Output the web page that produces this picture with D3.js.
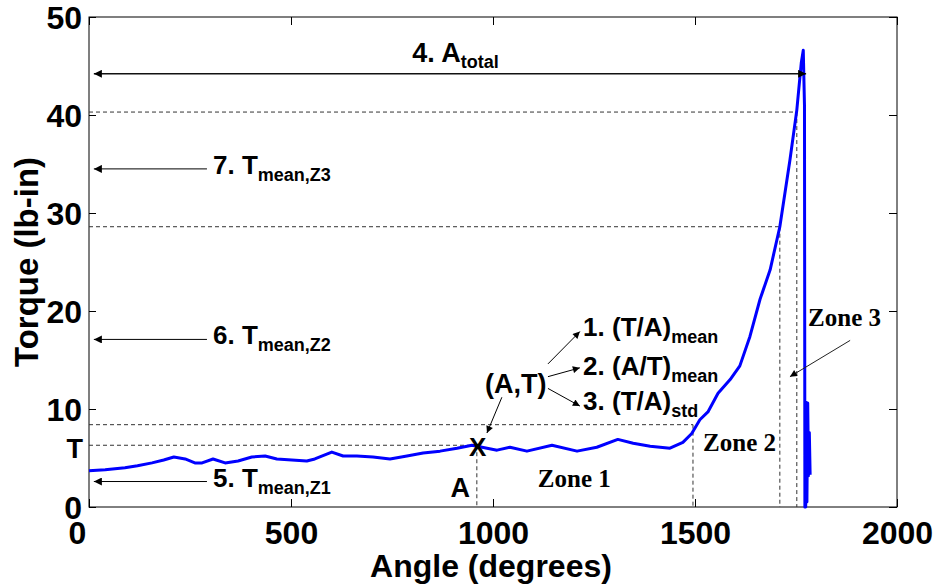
<!DOCTYPE html>
<html>
<head>
<meta charset="utf-8">
<script src="https://cdn.jsdelivr.net/npm/d3@7"></script>
<style>
  body { margin: 0; background: #fff; }
  text { font-family: "Liberation Sans", Arial, sans-serif; font-weight: bold; fill: #000; }
  .zone { font-family: "Liberation Serif", "Times New Roman", serif; }
</style>
</head>
<body>
<svg id="chart" width="936" height="586"></svg>
<script>
// torque curve (angle in degrees, torque in lb-in)
const angle = [0, 40, 89, 120, 156, 185, 210, 238, 262, 280, 307, 337, 369, 403, 436, 465, 502, 539, 559, 601,
  629, 663, 703, 745, 787, 827, 869, 911, 948, 973, 1010, 1042, 1084, 1146, 1208, 1257, 1309, 1347, 1389, 1438,
  1470, 1492, 1512, 1532, 1557, 1587, 1611, 1636, 1661, 1686, 1710, 1735, 1752, 1763, 1768, 1771, 1772, 1774,
  1775, 1777, 1779, 1781, 1783, 1785];
const torque = [3.7, 3.8, 4.0, 4.2, 4.5, 4.8, 5.1, 4.9, 4.5, 4.5, 4.9, 4.5, 4.7, 5.1, 5.2, 4.9, 4.8, 4.7, 4.9, 5.6,
  5.2, 5.2, 5.1, 4.9, 5.2, 5.5, 5.7, 6.0, 6.3, 6.1, 5.8, 6.1, 5.7, 6.3, 5.7, 6.1, 6.9, 6.5, 6.2, 6.0,
  6.6, 7.5, 8.9, 9.7, 11.6, 13.0, 14.4, 17.4, 21.2, 24.2, 28.6, 35.4, 40.5, 45.3, 46.6, 41, 0, 0,
  10.7, 0.5, 10.6, 3.2, 7.6, 3.3];

const xTicks = [0, 500, 1000, 1500, 2000];
const yTicks = [0, 10, 20, 30, 40, 50];

// zone boundaries: dashed guide lines (angle, torque)
const guideAngle = [960, 1495, 1710, 1752];
const guideTorque = [6.3, 8.4, 28.6, 40.3];

// left pointing arrows for the zone means
const meanLabels = ["7. T", "6. T", "5. T"];
const meanSubs = ["mean,Z3", "mean,Z2", "mean,Z1"];
const meanTorque = [34.5, 17.1, 2.6];

const resultLabels = ["1. (T/A)", "2. (A/T)", "3. (T/A)"];
const resultSubs = ["mean", "mean", "std"];
const resultTorque = [17.4, 13.5, 9.9];
const resultArrowTorque = [17.9, 14.2, 10.3];
const resultArrowStart = [14.6, 13.3, 12.1];

const zoneNames = ["Zone 1", "Zone 2", "Zone 3"];
const zoneAngle = [1111, 1520, 1780];
const zoneTorque = [2.0, 5.7, 18.5];

const svg = d3.select("#chart");
const margin = {left: 89, top: 17, right: 39, bottom: 79};
const w = 936 - margin.left - margin.right;
const h = 586 - margin.top - margin.bottom;

const x = d3.scaleLinear().domain([0, 2000]).range([margin.left, margin.left + w]);
const y = d3.scaleLinear().domain([0, 50]).range([margin.top + h, margin.top]);

const defs = svg.append("defs");
defs.append("marker").attr("id", "head").attr("viewBox", "0 0 10 10")
  .attr("refX", 10).attr("refY", 5).attr("markerWidth", 10).attr("markerHeight", 8)
  .attr("markerUnits", "userSpaceOnUse").attr("orient", "auto-start-reverse")
  .append("path").attr("d", "M0,0 L10,5 L0,10 Z").attr("fill", "#000");
defs.append("marker").attr("id", "small").attr("viewBox", "0 0 10 10")
  .attr("refX", 10).attr("refY", 5).attr("markerWidth", 9).attr("markerHeight", 7)
  .attr("markerUnits", "userSpaceOnUse").attr("orient", "auto")
  .append("path").attr("d", "M0,0 L10,5 L0,10 Z").attr("fill", "#000");

// box + ticks (matlab style, ticks inside on all sides)
svg.append("rect").attr("x", margin.left).attr("y", margin.top).attr("width", w).attr("height", h)
  .attr("fill", "none").attr("stroke", "#000").attr("stroke-width", 1);

const axB = svg.append("g").attr("transform", "translate(0," + (margin.top + h) + ")")
  .call(d3.axisBottom(x).tickValues(xTicks).tickSize(-8).tickPadding(14).tickFormat(d3.format("d")));
const axT = svg.append("g").attr("transform", "translate(0," + margin.top + ")")
  .call(d3.axisTop(x).tickValues(xTicks).tickSize(-8).tickFormat(""));
const axL = svg.append("g").attr("transform", "translate(" + margin.left + ",0)")
  .call(d3.axisLeft(y).tickValues(yTicks).tickSize(-7).tickPadding(7).tickFormat(d3.format("d")));
const axR = svg.append("g").attr("transform", "translate(" + (margin.left + w) + ",0)")
  .call(d3.axisRight(y).tickValues(yTicks).tickSize(-8).tickFormat(""));

[axB, axT, axL, axR].forEach(g =>
{
  g.select(".domain").remove();
  g.selectAll(".tick line").attr("stroke", "#000");
});
axB.selectAll(".tick text").attr("font-size", 32).attr("dy", "0.71em")
  .attr("font-family", "Liberation Sans, Arial, sans-serif").attr("font-weight", "bold");
axB.selectAll(".tick text").filter(d => d === 0).attr("dx", -12);
axL.selectAll(".tick text").attr("font-size", 32).attr("dy", "0.36em")
  .attr("font-family", "Liberation Sans, Arial, sans-serif").attr("font-weight", "bold");

svg.append("text").attr("x", x(1000) - 2).attr("y", 577).attr("text-anchor", "middle")
  .attr("font-size", 32).text("Angle (degrees)");
svg.append("text").attr("transform", "translate(38," + y(25) + ") rotate(-90)").attr("text-anchor", "middle")
  .attr("font-size", 33).text("Torque (lb-in)");

// dashed guides
const dash = svg.append("g").attr("stroke", "#333").attr("stroke-width", 1).attr("stroke-dasharray", "4,3");
guideAngle.forEach((a, i) =>
{
  dash.append("line").attr("x1", x(0)).attr("x2", x(a)).attr("y1", y(guideTorque[i])).attr("y2", y(guideTorque[i]));
  dash.append("line").attr("x1", x(a)).attr("x2", x(a)).attr("y1", y(guideTorque[i])).attr("y2", y(0));
});

// curve
const pts = angle.map((a, i) => [a, torque[i]]);
svg.append("path").datum(pts)
  .attr("d", d3.line().x(d => x(d[0])).y(d => y(d[1])))
  .attr("fill", "none").attr("stroke", "#0000ff").attr("stroke-width", 3).attr("stroke-linejoin", "round");

// A_total double arrow
svg.append("line").attr("x1", x(12)).attr("x2", x(1775)).attr("y1", y(44.2)).attr("y2", y(44.2))
  .attr("stroke", "#111").attr("stroke-width", 1.5)
  .attr("marker-start", "url(#head)").attr("marker-end", "url(#head)");
const at = svg.append("text").attr("x", x(800)).attr("y", y(45.4)).attr("font-size", 27).text("4. A");
at.append("tspan").attr("font-size", 18).attr("dy", 6).text("total");

// zone mean arrows
meanTorque.forEach((t, i) =>
{
  svg.append("line").attr("x1", x(292)).attr("x2", x(12)).attr("y1", y(t)).attr("y2", y(t))
    .attr("stroke", "#000").attr("stroke-width", 1).attr("marker-end", "url(#head)");
  const tx = svg.append("text").attr("x", x(307)).attr("y", y(t) + 5).attr("font-size", 26).text(meanLabels[i]);
  tx.append("tspan").attr("font-size", 18).attr("dy", 7).text(meanSubs[i]);
});

// (A,T) point
svg.append("text").attr("x", x(962)).attr("y", y(6.1)).attr("text-anchor", "middle")
  .attr("dominant-baseline", "central").attr("font-size", 26).text("X");
svg.append("text").attr("x", x(-15)).attr("y", y(5.0)).attr("text-anchor", "end").attr("font-size", 27).text("T");
svg.append("text").attr("x", x(943)).attr("y", y(1.0)).attr("text-anchor", "end").attr("font-size", 27).text("A");
svg.append("text").attr("x", x(980)).attr("y", y(11.6)).attr("font-size", 27).text("(A,T)");
svg.append("line").attr("x1", x(1022)).attr("y1", y(11.2)).attr("x2", x(985)).attr("y2", y(7.55))
  .attr("stroke", "#000").attr("stroke-width", 1).attr("marker-end", "url(#small)");

resultLabels.forEach((lab, i) =>
{
  svg.append("line").attr("x1", x(1136)).attr("y1", y(resultArrowStart[i]))
    .attr("x2", x(1215)).attr("y2", y(resultArrowTorque[i]))
    .attr("stroke", "#000").attr("stroke-width", 1).attr("marker-end", "url(#small)");
  const tx = svg.append("text").attr("x", x(1223)).attr("y", y(resultTorque[i])).attr("font-size", 26).text(lab);
  tx.append("tspan").attr("font-size", 18).attr("dy", 7).text(resultSubs[i]);
});

// zones
zoneNames.forEach((z, i) =>
{
  svg.append("text").attr("class", "zone").attr("x", x(zoneAngle[i])).attr("y", y(zoneTorque[i]))
    .attr("font-size", 25).text(z);
});
svg.append("line").attr("x1", x(1884)).attr("y1", y(17.0)).attr("x2", x(1735)).attr("y2", y(13.3))
  .attr("stroke", "#222").attr("stroke-width", 1).attr("marker-end", "url(#small)");
</script>
</body>
</html>
